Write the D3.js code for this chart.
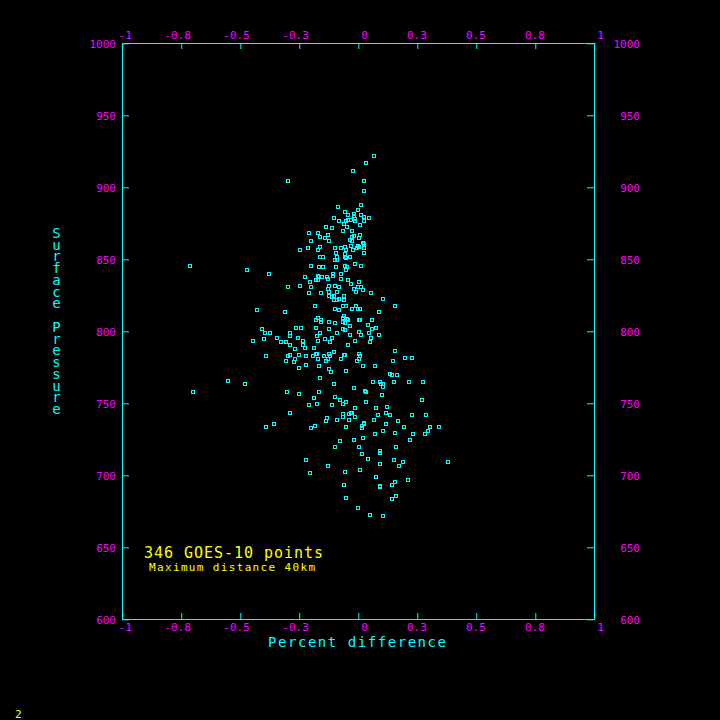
<!DOCTYPE html>
<html>
<head>
<meta charset="utf-8">
<script src="https://cdn.jsdelivr.net/npm/d3@7"></script>
<style>
  html, body { margin: 0; padding: 0; background: #000; }
  svg { display: block; }
  text { font-family: "DejaVu Sans Mono", monospace; }
</style>
</head>
<body>
<script>
// percent difference vs surface pressure, one pair per GOES-10 match
var points = [
  [-0.297,904.2],[-0.208,868.1],[-0.199,862.5],[-0.246,856.3],[-0.212,857.6],[-0.712,845.1],[-0.470,842.4],
  [-0.199,845.1],[-0.377,839.6],[-0.225,837.5],[-0.203,834.0],[-0.297,830.6],[-0.246,831.3],[-0.199,830.6],
  [-0.208,826.4],[-0.428,814.6],[-0.309,813.2],[-0.407,801.4],[-0.394,798.6],[-0.373,798.6],[-0.288,798.6],
  [-0.263,802.1],[-0.242,802.1],
  [0.068,921.5],[0.034,916.7],[-0.021,911.1],[0.025,904.2],[0.025,897.2],[-0.085,886.1],[0.013,887.5],
  [-0.055,882.6],[0.000,884.0],[-0.017,881.3],[-0.017,879.9],[-0.042,880.6],[0.013,880.6],[0.025,879.2],
  [0.047,878.5],[-0.102,878.5],[-0.081,876.4],[-0.051,876.4],[-0.042,877.1],[-0.030,877.1],[-0.013,877.8],
  [-0.013,876.4],[0.025,876.4],[-0.059,874.3],[0.008,873.6],[-0.136,872.2],[-0.110,871.5],[-0.047,872.2],
  [-0.064,869.4],[-0.025,869.4],[-0.169,868.1],[-0.127,866.7],[0.008,866.7],[-0.161,865.3],[-0.140,864.6],
  [-0.025,865.3],[-0.017,866.0],[-0.034,863.2],[0.004,864.6],[-0.123,862.5],[-0.025,862.5],[0.021,861.1],
  [0.025,860.4],[-0.030,859.0],[0.000,859.0],[0.004,858.3],[-0.161,858.3],[-0.169,856.3],[-0.097,857.6],
  [-0.072,857.6],[-0.055,858.3],[-0.051,856.3],[-0.021,856.3],[-0.004,857.6],[0.025,857.6],[-0.093,854.2],
  [-0.055,853.5],[0.025,854.2],[-0.161,851.4],[-0.148,851.4],[-0.089,851.4],[-0.097,849.3],[-0.089,849.3],
  [-0.055,851.4],[-0.051,850.7],[-0.034,851.4],[-0.013,846.5],[0.013,845.1],[-0.165,844.4],[-0.148,844.4],
  [-0.093,844.4],[-0.055,845.1],[-0.047,844.4],[-0.051,842.4],[-0.072,839.6],[-0.106,839.6],[-0.106,838.2],
  [-0.169,838.2],[-0.165,837.5],[-0.178,835.4],[-0.169,835.4],[-0.153,837.5],[-0.131,837.5],[-0.127,836.1],
  [-0.072,836.1],[-0.042,835.4],[0.004,834.0],[-0.030,832.6],[-0.123,831.3],[-0.097,831.3],[-0.081,830.6],
  [0.000,830.6],[0.013,830.6],[-0.017,829.2],[-0.127,829.2],[0.021,828.5],[-0.008,827.1],[-0.157,826.4],
  [-0.123,827.1],[-0.089,827.1],[0.055,826.4],[-0.123,824.3],[-0.110,823.6],[-0.102,824.3],[-0.059,824.3],
  [-0.102,821.5],[-0.089,821.5],[-0.081,822.2],[-0.059,821.5],[0.106,822.2],[0.157,817.4],[-0.183,817.4],
  [-0.064,817.4],[-0.051,817.4],[-0.008,817.4],[-0.097,815.3],[-0.081,814.6],[-0.025,815.3],[0.000,815.3],
  [0.008,815.3],[0.089,813.2],[-0.059,810.4],[-0.064,809.0],[-0.047,808.3],[-0.042,807.6],[-0.178,807.6],
  [-0.169,809.0],[-0.157,807.6],[-0.157,806.3],[-0.123,806.3],[-0.097,805.6],[-0.064,806.3],[-0.055,805.6],
  [0.004,807.6],[0.008,807.6],[0.059,807.6],[-0.034,803.5],[0.042,804.2],[-0.178,802.1],[-0.123,801.4],
  [-0.064,801.4],[-0.055,800.7],[0.059,801.4],[0.076,802.1],[-0.161,798.6],[-0.089,798.6],[0.004,799.3],
  [0.047,798.6],
  [-0.445,793.1],[-0.398,794.4],[-0.343,795.1],[-0.288,796.5],[-0.254,795.1],[-0.326,792.4],[-0.305,792.4],
  [-0.233,793.1],[-0.288,790.3],[-0.233,790.3],[-0.267,787.5],[-0.225,788.2],[-0.186,788.2],[-0.390,782.6],
  [-0.297,782.6],[-0.288,783.3],[-0.267,780.6],[-0.271,778.5],[-0.305,779.2],[-0.250,783.3],[-0.220,782.6],
  [-0.191,782.6],[-0.220,776.4],[-0.250,774.3],[-0.551,765.3],[-0.479,763.2],[-0.699,757.6],[-0.301,757.6],
  [-0.250,756.3],[-0.186,753.5],[-0.208,748.6],[-0.288,743.1],[-0.356,735.4],[-0.390,733.3],[-0.199,732.6],
  [-0.220,710.4],[-0.203,701.4],
  [-0.174,796.5],[-0.140,794.4],[-0.110,795.1],[-0.034,797.2],[0.013,797.2],[0.089,797.2],[-0.169,793.1],
  [-0.119,792.4],[-0.013,793.1],[0.055,795.1],[0.051,792.4],[-0.042,790.3],[0.157,786.1],[-0.178,784.0],
  [-0.174,784.0],[-0.144,782.6],[-0.123,784.0],[-0.119,782.6],[-0.127,780.6],[-0.136,779.2],[-0.169,780.6],
  [-0.102,785.4],[-0.072,780.6],[-0.059,783.3],[-0.055,783.3],[0.004,784.0],[0.008,782.6],[0.004,780.6],
  [-0.004,779.2],[0.021,775.7],[0.072,775.7],[0.148,779.2],[0.199,781.3],[0.229,781.3],[-0.165,775.7],
  [-0.123,773.6],[-0.114,771.5],[-0.051,772.2],[-0.161,767.4],[-0.102,763.2],[0.136,770.1],[0.144,769.4],
  [0.165,769.4],[0.064,764.6],[0.093,764.6],[0.097,763.2],[0.106,763.2],[0.106,761.1],[0.153,764.6],
  [0.216,764.6],[0.275,764.6],[-0.017,760.4],[0.030,758.3],[0.034,757.6],[-0.165,757.6],[0.102,755.6],
  [-0.097,754.2],[-0.076,752.1],[-0.051,750.7],[-0.064,749.3],[-0.174,749.3],[-0.110,748.6],[0.034,750.7],
  [0.271,752.1],[-0.013,746.5],[0.076,746.5],[0.123,747.2],[-0.038,742.4],[-0.030,743.1],[-0.025,743.1],
  [-0.064,742.4],[-0.064,740.3],[-0.013,740.3],[0.085,741.7],[0.119,743.1],[0.136,741.7],[0.229,741.7],
  [0.288,741.7],[-0.131,739.6],[-0.136,737.5],[-0.089,738.2],[-0.038,738.2],[0.068,738.2],[0.169,737.5],
  [0.025,736.1],[0.025,735.4],[0.017,734.0],[0.017,732.6],[-0.183,734.0],[-0.051,733.3],[0.119,735.4],
  [0.195,733.3],[0.305,733.3],[0.343,733.3],[0.297,730.6],[0.106,730.6],[0.157,729.2],[0.233,728.5],
  [0.284,728.5],[0.072,728.5],[0.021,725.7],[-0.017,724.3],[-0.076,723.6],[0.220,724.3],[-0.097,719.4],
  [0.004,719.4],[0.161,719.4],[0.093,716.7],[0.093,715.3],[0.017,714.6],[0.042,711.1],[0.153,710.4],
  [0.191,709.0],[0.381,709.0],[0.093,707.6],[-0.127,706.3],[0.174,706.3],[0.008,703.5],[-0.055,702.1],
  [0.076,698.6],[0.212,696.5],[0.157,695.1],[0.093,692.4],[0.093,691.7],[0.144,693.1],[-0.059,693.1],
  [0.161,685.4],[0.144,683.3],[-0.051,684.0],[0.000,677.1],[0.051,672.2],[0.106,671.5]
];

var xTicks = [-1, -0.75, -0.5, -0.25, 0, 0.25, 0.5, 0.75, 1];
var xTickLabels = ["-1", "-0.8", "-0.5", "-0.3", "0", "0.3", "0.5", "0.8", "1"];
var yTicks = [600, 650, 700, 750, 800, 850, 900, 950, 1000];
var yTickLabels = ["600", "650", "700", "750", "800", "850", "900", "950", "1000"];

var cyan = "#00ffff";
var magenta = "#ff00ff";
var yellow = "#ffff00";

var width = 720;
var height = 720;
var plot = {"left": 122.3, "right": 594.3, "top": 43.3, "bottom": 619.3};

var svg = d3.select("body")
            .append("svg")
            .attr("width", width)
            .attr("height", height);

svg.append("rect")
   .attr("width", width)
   .attr("height", height)
   .attr("fill", "#000");

var xScale = d3.scaleLinear()
               .domain([-1, 1])
               .range([plot.left, plot.right]);

var yScale = d3.scaleLinear()
               .domain([600, 1000])
               .range([plot.bottom, plot.top]);

// style an axis group: cyan ticks, magenta labels, no domain path
function styleAxis(g) {
  g.select(".domain").remove();
  g.attr("font-family", null).attr("font-size", null);
  g.selectAll(".tick line").attr("stroke", cyan);
  g.selectAll(".tick text")
   .attr("fill", magenta)
   .style("font-size", "11px");
}

function xLabel(d) { return xTickLabels[xTicks.indexOf(d)]; }
function yLabel(d) { return yTickLabels[yTicks.indexOf(d)]; }

// top axis
var topAxis = svg.append("g")
                 .attr("transform", "translate(0," + Math.round(plot.top) + ")")
                 .call(d3.axisTop(xScale).tickValues(xTicks).tickFormat(xLabel)
                         .tickSizeInner(-6).tickSizeOuter(0));
styleAxis(topAxis);
topAxis.selectAll(".tick text").attr("x", 9).attr("y", -4).attr("dy", 0)
       .attr("text-anchor", "end");

// bottom axis
var bottomAxis = svg.append("g")
                    .attr("transform", "translate(0," + Math.round(plot.bottom) + ")")
                    .call(d3.axisBottom(xScale).tickValues(xTicks).tickFormat(xLabel)
                            .tickSizeInner(-6).tickSizeOuter(0));
styleAxis(bottomAxis);
bottomAxis.selectAll(".tick text").attr("x", 9).attr("y", 12).attr("dy", 0)
          .attr("text-anchor", "end");

// left axis
var leftAxis = svg.append("g")
                  .attr("transform", "translate(" + Math.round(plot.left) + ",0)")
                  .call(d3.axisLeft(yScale).tickValues(yTicks).tickFormat(yLabel)
                          .tickSizeInner(-7).tickSizeOuter(0));
styleAxis(leftAxis);
leftAxis.selectAll(".tick text").attr("x", -6).attr("dy", "0.36em")
        .attr("text-anchor", "end");

// right axis
var rightAxis = svg.append("g")
                   .attr("transform", "translate(" + Math.round(plot.right) + ",0)")
                   .call(d3.axisRight(yScale).tickValues(yTicks).tickFormat(yLabel)
                           .tickSizeInner(-7).tickSizeOuter(0));
styleAxis(rightAxis);
rightAxis.selectAll(".tick text").attr("x", 640 - Math.round(plot.right)).attr("dy", "0.36em")
         .attr("text-anchor", "end");

// frame
svg.append("rect")
   .attr("x", Math.round(plot.left) + 0.5)
   .attr("y", Math.round(plot.top) + 0.5)
   .attr("width", Math.round(plot.right) - Math.round(plot.left))
   .attr("height", Math.round(plot.bottom) - Math.round(plot.top))
   .attr("fill", "none")
   .attr("stroke", cyan)
   .attr("stroke-width", 1);

// points as small hollow squares
svg.append("g")
   .selectAll("rect")
   .data(points)
   .enter()
   .append("rect")
   .attr("x", function(d) { return Math.round(xScale(d[0])) - 1.5; })
   .attr("y", function(d) { return Math.round(yScale(d[1])) - 1.5; })
   .attr("width", 3)
   .attr("height", 3)
   .attr("fill", "none")
   .attr("stroke", cyan)
   .attr("stroke-width", 1);

// axis titles
svg.append("text")
   .attr("x", 268)
   .attr("y", 647)
   .attr("fill", cyan)
   .attr("textLength", 178)
   .attr("lengthAdjust", "spacing")
   .style("font-size", "14px")
   .text("Percent difference");

// y title: upright letters stacked in one column
svg.append("text")
   .attr("x", 56.5)
   .attr("y", 225)
   .attr("fill", cyan)
   .style("writing-mode", "vertical-rl")
   .style("text-orientation", "upright")
   .style("font-size", "14px")
   .attr("textLength", 192)
   .attr("lengthAdjust", "spacing")
   .text("Surface Pressure");

// annotation
svg.append("text")
   .attr("x", 144)
   .attr("y", 558)
   .attr("fill", yellow)
   .attr("textLength", 179)
   .attr("lengthAdjust", "spacing")
   .style("font-size", "15px")
   .text("346 GOES-10 points");

svg.append("text")
   .attr("x", 149)
   .attr("y", 571)
   .attr("fill", yellow)
   .attr("textLength", 166)
   .attr("lengthAdjust", "spacing")
   .style("font-size", "11px")
   .text("Maximum distance 40km");

svg.append("text")
   .attr("x", 15)
   .attr("y", 718)
   .attr("fill", yellow)
   .style("font-size", "11px")
   .text("2");
</script>
</body>
</html>
